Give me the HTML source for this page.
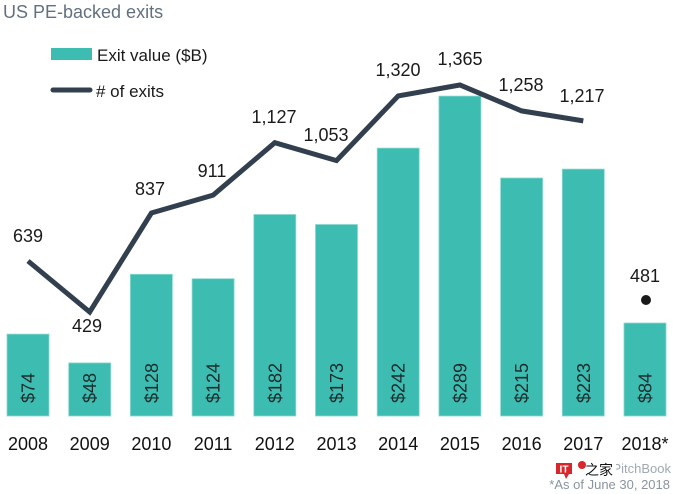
<!DOCTYPE html>
<html>
<head>
<meta charset="utf-8">
<style>
html,body{margin:0;padding:0;background:#fff;}
svg{display:block;}
text{font-family:"Liberation Sans","Noto Sans CJK SC",sans-serif;}
</style>
</head>
<body>
<svg width="673" height="494" viewBox="0 0 673 494" xmlns="http://www.w3.org/2000/svg">
<rect width="673" height="494" fill="#fff"/>
<!-- title -->
<text x="3" y="18" font-size="18" fill="#627080">US PE-backed exits</text>
<!-- legend -->
<rect x="51" y="48" width="41" height="12" fill="#3dbdb1"/>
<text x="97" y="61" font-size="17" fill="#1a1a1a">Exit value ($B)</text>
<line x1="53" y1="90" x2="90" y2="90" stroke="#323f4e" stroke-width="5" stroke-linecap="round"/>
<text x="96" y="97" font-size="17" fill="#1a1a1a"># of exits</text>

<!-- bars -->
<g fill="#3dbdb1" stroke="#8ad8cf" stroke-width="0.8">
<rect x="7" y="334.1" width="42" height="81.9"/>
<rect x="68.7" y="362.9" width="42" height="53.1"/>
<rect x="130.4" y="274.3" width="42" height="141.7"/>
<rect x="192.1" y="278.7" width="42" height="137.3"/>
<rect x="253.8" y="214.5" width="42" height="201.5"/>
<rect x="315.5" y="224.5" width="42" height="191.5"/>
<rect x="377.2" y="148.1" width="42" height="267.9"/>
<rect x="438.9" y="96.1" width="42" height="319.9"/>
<rect x="500.6" y="178" width="42" height="238"/>
<rect x="562.3" y="169.1" width="42" height="246.9"/>
<rect x="624" y="323" width="42" height="93"/>
</g>

<!-- bar labels -->
<g font-size="18" fill="#1c2b2b">
<text transform="translate(34.5,403) rotate(-90)">$74</text>
<text transform="translate(96.2,403) rotate(-90)">$48</text>
<text transform="translate(157.9,403) rotate(-90)">$128</text>
<text transform="translate(219.6,403) rotate(-90)">$124</text>
<text transform="translate(281.3,403) rotate(-90)">$182</text>
<text transform="translate(343,403) rotate(-90)">$173</text>
<text transform="translate(404.7,403) rotate(-90)">$242</text>
<text transform="translate(466.4,403) rotate(-90)">$289</text>
<text transform="translate(528.1,403) rotate(-90)">$215</text>
<text transform="translate(589.8,403) rotate(-90)">$223</text>
<text transform="translate(651.5,403) rotate(-90)">$84</text>
</g>

<!-- line -->
<polyline fill="none" stroke="#323f4e" stroke-width="5" stroke-linejoin="miter"
points="28,261 89.7,312 151.4,213 213.1,195.1 274.8,142.7 336.5,160.6 398.2,95.9 459.9,85 521.6,110.9 583.3,120.9"/>
<circle cx="646" cy="300" r="5" fill="#1a1a1a"/>

<!-- line labels -->
<g font-size="18" fill="#1a1a1a" text-anchor="middle">
<text x="28" y="242">639</text>
<text x="87" y="332">429</text>
<text x="150" y="195">837</text>
<text x="212" y="177">911</text>
<text x="274" y="123">1,127</text>
<text x="326" y="141">1,053</text>
<text x="398" y="76">1,320</text>
<text x="460" y="65">1,365</text>
<text x="521" y="91">1,258</text>
<text x="582" y="102">1,217</text>
<text x="645" y="282">481</text>
</g>

<!-- x axis labels -->
<g font-size="18" fill="#111" text-anchor="middle">
<text x="28" y="450">2008</text>
<text x="89.7" y="450">2009</text>
<text x="151.4" y="450">2010</text>
<text x="213.1" y="450">2011</text>
<text x="274.8" y="450">2012</text>
<text x="336.5" y="450">2013</text>
<text x="398.2" y="450">2014</text>
<text x="459.9" y="450">2015</text>
<text x="521.6" y="450">2016</text>
<text x="583.3" y="450">2017</text>
<text x="645" y="450">2018*</text>
</g>

<!-- source -->
<text x="671" y="473" font-size="13" fill="#a0a8b2" text-anchor="end">Source: PitchBook</text>
<text x="670" y="489" font-size="13" fill="#8a94a0" text-anchor="end">*As of June 30, 2018</text>
<!-- watermark logo -->
<rect x="554" y="460" width="62" height="18" fill="#fff"/>
<rect x="556" y="463" width="16" height="11" fill="#d9262b"/>
<polygon points="564,474 569,474 566,479" fill="#d9262b"/>
<text x="564" y="472.5" font-size="10" font-weight="bold" fill="#fff" text-anchor="middle">IT</text>
<circle cx="582" cy="465" r="4" fill="#d9262b"/>
<text x="585" y="475" font-size="14" fill="#111" font-family="Noto Serif CJK SC, serif">之家</text>
</svg>
</body>
</html>
